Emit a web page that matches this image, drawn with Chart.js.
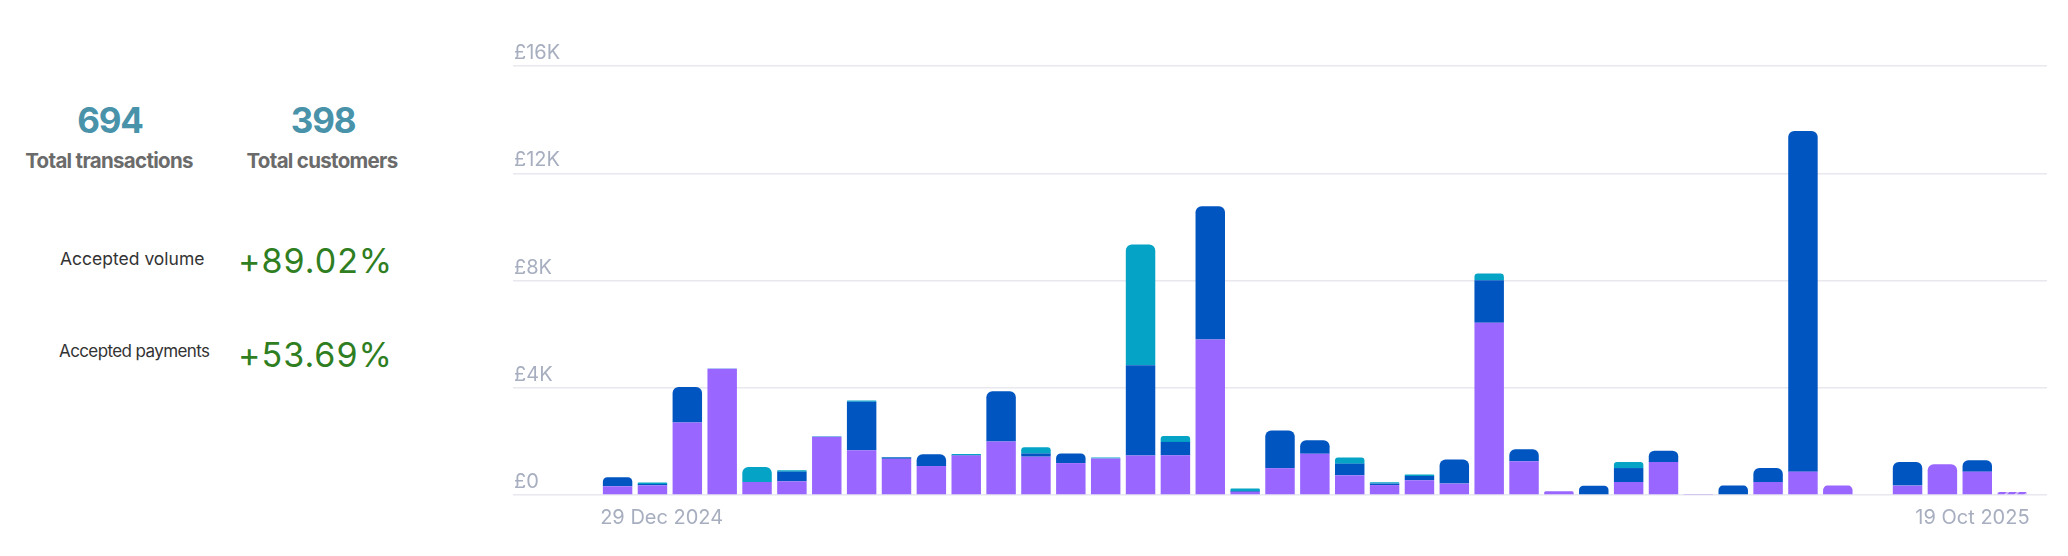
<!DOCTYPE html>
<html>
<head>
<meta charset="utf-8">
<script src="https://cdn.jsdelivr.net/npm/chart.js@4.4.0/dist/chart.umd.min.js"></script>
<style>
  html, body { margin: 0; padding: 0; background: #fff; }
  body { width: 2068px; height: 556px; position: relative; overflow: hidden; font-family: Inter, "Liberation Sans", sans-serif; }
  .txt { position: absolute; white-space: nowrap; }
  .num { font-weight: 700; font-size: 35px; line-height: 35px; color: #4892aa; letter-spacing: -1.2px; width: 300px; text-align: center; }
  .lbl { font-weight: 700; font-size: 20.5px; line-height: 20.5px; color: #6b6b6b; letter-spacing: -0.7px; width: 300px; text-align: center; }
  .acc { font-size: 17.5px; line-height: 17.5px; color: #333; }
  .pct { font-size: 34px; line-height: 34px; color: #2f7e1f; letter-spacing: 1px; }
  #wrap { position: absolute; left: 480px; top: 0; width: 1588px; height: 556px; }
</style>
</head>
<body>
<div class="txt num" id="totalTx" style="left:-40px; top:103px;"></div>
<div class="txt lbl" style="left:-41px; top:151px;">Total transactions</div>
<div class="txt num" id="totalCust" style="left:173px; top:103px;"></div>
<div class="txt lbl" style="left:172px; top:151px;">Total customers</div>
<div class="txt acc" style="left:60px; top:250px;">Accepted volume</div>
<div class="txt pct" id="accVol" style="left:238px; top:244px;"></div>
<div class="txt acc" style="left:59px; top:343px; font-size:17px; letter-spacing:-0.6px;">Accepted payments</div>
<div class="txt pct" id="accPay" style="left:238px; top:338px;"></div>

<div id="wrap"><canvas id="volumeChart" width="1588" height="556"></canvas></div>

<script>
// headline stats
const totalTransactions = 694;
const totalCustomers = 398;
const acceptedVolume = '+89.02%';
const acceptedPayments = '+53.69%';

// weekly volume (GBP), one entry per bar
const purpleValues = [325, 360, 2700, 4705, 485, 510, 2170, 1670, 1350, 1080, 1470, 2000, 1430, 1190, 1360, 1470, 1480, 5800, 120, 1000, 1540, 735, 370, 550, 425, 6420, 1260, 140, 0, 485, 1230, 40, 0, 485, 870, 350, 30, 350, 1145, 870, 110];
const blueValues   = [335, 50, 1330, 0, 0, 360, 0, 1810, 50, 440, 20, 1870, 120, 360, 0, 3370, 500, 4970, 30, 1410, 500, 435, 55, 160, 895, 1590, 445, 0, 345, 520, 425, 0, 350, 520, 12710, 0, 0, 880, 0, 425, 0];
const tealValues   = [0, 60, 0, 15, 560, 50, 25, 40, 20, 0, 40, 0, 230, 0, 35, 4500, 220, 0, 90, 0, 0, 225, 50, 50, 0, 250, 0, 0, 0, 225, 0, 0, 0, 0, 0, 0, 0, 0, 0, 0, 0];
const tickLabels = ['29 Dec 2024', '19 Oct 2025'];
const yTicks = [0, 4000, 8000, 12000, 16000];

document.getElementById('totalTx').textContent = totalTransactions;
document.getElementById('totalCust').textContent = totalCustomers;
document.getElementById('accVol').textContent = acceptedVolume;
document.getElementById('accPay').textContent = acceptedPayments;

const series = [purpleValues, blueValues, tealValues];
const lastIndex = purpleValues.length - 1;

// striped fill for the current (incomplete) week
const pc = document.createElement('canvas');
pc.width = 10; pc.height = 10;
const pctx = pc.getContext('2d');
pctx.fillStyle = '#9966ff';
pctx.fillRect(0, 0, 10, 10);
pctx.strokeStyle = 'rgba(255,255,255,0.55)';
pctx.lineWidth = 2;
pctx.beginPath();
pctx.moveTo(0, 10); pctx.lineTo(10, 0);
pctx.moveTo(-5, 5); pctx.lineTo(5, -5);
pctx.moveTo(5, 15); pctx.lineTo(15, 5);
pctx.stroke();
const stripes = document.getElementById('volumeChart').getContext('2d').createPattern(pc, 'repeat');

// only the top segment of each stack gets rounded corners
function topRadius(ctx) {
  const i = ctx.dataIndex;
  const d = ctx.datasetIndex;
  for (let k = series.length - 1; k > d; k--) {
    if (series[k][i] > 0) return 0;
  }
  return { topLeft: 6, topRight: 6, bottomLeft: 0, bottomRight: 0 };
}

const toPoints = (arr) => arr.map((v, i) => ({ x: i, y: v }));

new Chart(document.getElementById('volumeChart'), {
  type: 'bar',
  data: {
    datasets: [
      {
        label: 'Card',
        data: toPoints(purpleValues),
        backgroundColor: (ctx) => ctx.dataIndex === lastIndex ? stripes : '#9966ff',
        borderRadius: topRadius,
        borderSkipped: false,
      },
      {
        label: 'Bank',
        data: toPoints(blueValues),
        backgroundColor: '#0055c1',
        borderRadius: topRadius,
        borderSkipped: false,
      },
      {
        label: 'Other',
        data: toPoints(tealValues),
        backgroundColor: '#05a3c6',
        borderRadius: topRadius,
        borderSkipped: false,
      },
    ],
  },
  options: {
    responsive: false,
    animation: false,
    barPercentage: 1,
    categoryPercentage: 0.845,
    layout: {
      padding: { left: 31, right: 21, top: 66, bottom: 21 },
    },
    plugins: {
      legend: { display: false },
      tooltip: { enabled: false },
    },
    scales: {
      x: {
        type: 'linear',
        stacked: true,
        offset: false,
        min: -3,
        max: 41,
        grid: { display: false, drawTicks: false },
        border: { display: false },
        afterBuildTicks: (scale) => {
          scale.ticks = [{ value: -0.5 }, { value: lastIndex + 0.5 }];
        },
        afterFit: (scale) => { scale.height = 40; },
        ticks: {
          autoSkip: false,
          maxRotation: 0,
          align: 'inner',
          padding: 11,
          color: '#a7aebf',
          font: { family: 'Inter, "Liberation Sans", sans-serif', size: 20 },
          callback: (value, index) => tickLabels[index],
        },
      },
      y: {
        stacked: true,
        min: 0,
        max: 16000,
        afterBuildTicks: (scale) => {
          scale.ticks = yTicks.map((v) => ({ value: v }));
        },
        grid: { color: '#e8e8ef', lineWidth: 1.5, drawTicks: false },
        border: { display: false },
        ticks: {
          mirror: true,
          padding: 1,
          labelOffset: -13,
          color: '#a7aebf',
          font: { family: 'Inter, "Liberation Sans", sans-serif', size: 20 },
          callback: (v) => v === 0 ? '£0' : '£' + (v / 1000) + 'K',
        },
      },
    },
  },
});
</script>
</body>
</html>
